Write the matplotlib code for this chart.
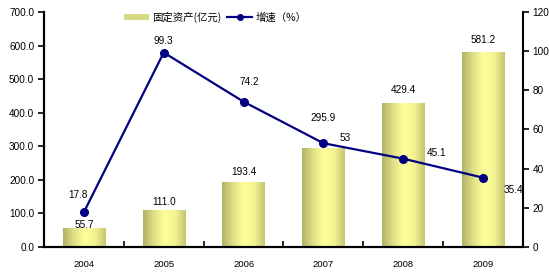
import numpy as np
import matplotlib.pyplot as plt
from matplotlib.colors import LinearSegmentedColormap
from matplotlib.lines import Line2D
from matplotlib.patches import Patch

years = ["2004", "2005", "2006", "2007", "2008", "2009"]
invest = [55.7, 111.0, 193.4, 295.9, 429.4, 581.2]
growth = [17.8, 99.3, 74.2, 53, 45.1, 35.4]
growth_labels = ["17.8", "99.3", "74.2", "53", "45.1", "35.4"]

# label offsets in points (kept apart from data)
bar_off = [(0, -1), (0, 2), (0, 4), (0, 18), (0, 6), (0, 5)]
line_off = [(-4, 12), (0, 8), (4, 14), (16, 4), (24, 4), (22, -9)]

cjk = ["Noto Sans CJK SC", "DejaVu Sans"]
num_font = "Liberation Sans"
navy = "#000080"

fig = plt.figure(figsize=(5.49, 2.72), dpi=100)
ax = fig.add_axes([0.0801, 0.0919, 0.8725, 0.864])
ax2 = ax.twinx()

x = np.arange(len(years))
bars = ax.bar(x, invest, width=0.53, color="none", edgecolor="none", zorder=2)

grad = LinearSegmentedColormap.from_list(
    "olive", ["#b2b265", "#dede85", "#ffff9c", "#f4f494", "#c4c470"]
)
g = np.linspace(0, 1, 256).reshape(1, -1)
for b in bars:
    x0, w, h = b.get_x(), b.get_width(), b.get_height()
    im = ax.imshow(g, cmap=grad, aspect="auto", extent=[x0, x0 + w, 0, h],
                   zorder=2, interpolation="bilinear")
    im.set_clip_path(b)

for xi, v, off in zip(x, invest, bar_off):
    ax.annotate(f"{v:.1f}", (xi, v), xytext=off, textcoords="offset points",
                ha="center", va="bottom", fontsize=7.2, family=num_font)

ax.set_xlim(-0.5, len(years) - 0.5)
ax.set_ylim(0, 700)
ax.set_yticks(np.arange(0, 701, 100))
ax.set_yticklabels([f"{t:.1f}" for t in np.arange(0, 701, 100)],
                   fontsize=7.2, family=num_font)
ax.set_xticks(x)
ax.set_xticklabels(years, fontsize=6.8, family=num_font)
ax.set_xticks(np.arange(0.5, len(years) - 0.5, 1), minor=True)
ax.tick_params(axis="x", which="major", length=0, pad=9)
ax.tick_params(axis="x", which="minor", length=4, width=1.2, direction="in")
ax.tick_params(axis="y", length=4, width=1.2, direction="out", pad=3)

ax2.plot(x, growth, color=navy, lw=1.6, marker="o", ms=5.5, zorder=5)
ax2.set_ylim(0, 120)
ax2.set_yticks(np.arange(0, 121, 20))
ax2.set_yticklabels([str(t) for t in np.arange(0, 121, 20)],
                    fontsize=7.2, family=num_font)
ax2.tick_params(axis="y", length=4, width=1.2, direction="out", pad=3)

for xi, v, lab, off in zip(x, growth, growth_labels, line_off):
    ax2.annotate(lab, (xi, v), xytext=off, textcoords="offset points",
                 ha="center", va="center", fontsize=7.2, family=num_font)

for a in (ax, ax2):
    a.spines["top"].set_visible(False)
    for s in ("left", "right", "bottom"):
        a.spines[s].set_linewidth(1.5)
ax.spines["right"].set_visible(False)

handles = [
    Patch(facecolor="#d9d985", edgecolor="none"),
    Line2D([0], [0], color=navy, lw=1.6, marker="o", ms=4),
]
fig.legend(handles, ["固定资产(亿元)", "增速（%）"], loc="center",
           bbox_to_anchor=(0.392, 0.937), ncol=2, frameon=False,
           prop={"family": cjk, "size": 7.5}, handlelength=2.4,
           handleheight=0.6, columnspacing=0.6, handletextpad=0.3)

fig.savefig("out.png", dpi=100)
